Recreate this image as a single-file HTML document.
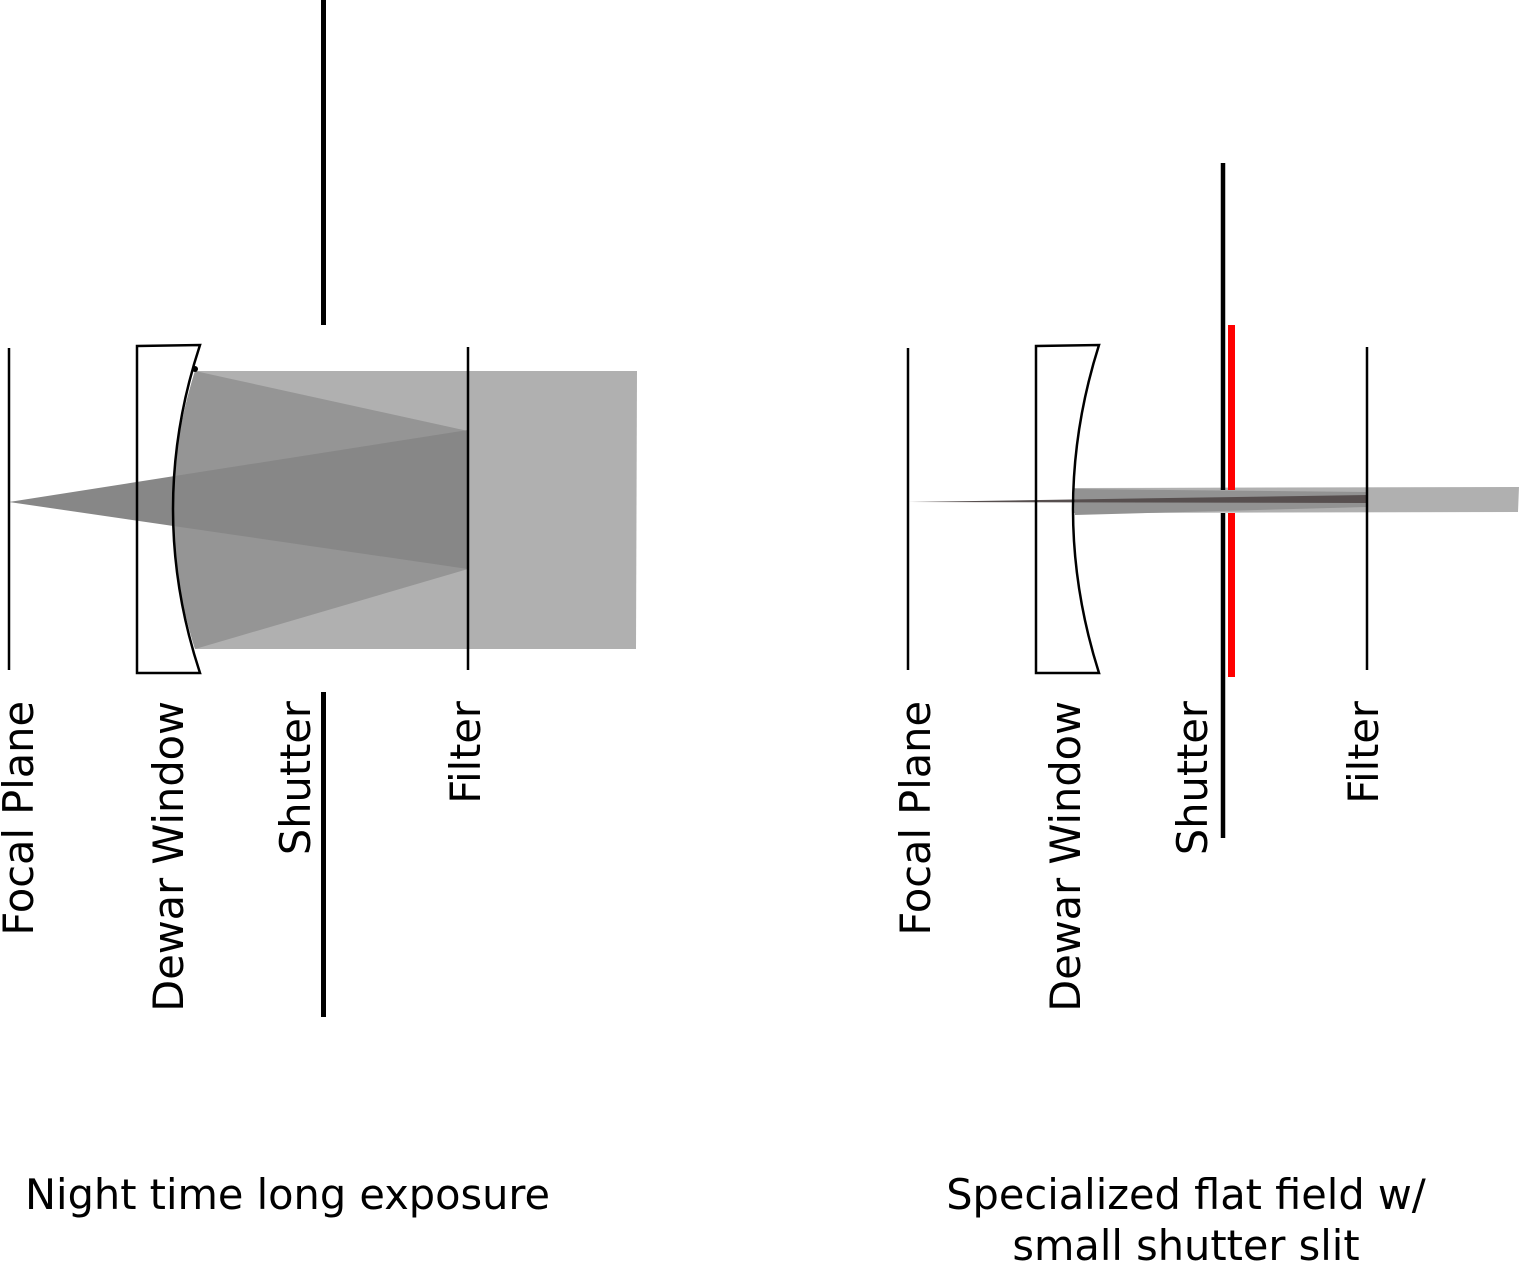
<!DOCTYPE html>
<html><head><meta charset="utf-8"><style>
html,body{margin:0;padding:0;background:#fff}
svg{display:block}
text{font-family:"DejaVu Sans","Liberation Sans",sans-serif;fill:#000}
</style></head><body>
<svg width="1519" height="1262" viewBox="0 0 1519 1262" xmlns="http://www.w3.org/2000/svg">
<!-- LEFT -->
<g>
<path d="M195,371 L637,371 L636,649 L195,649 Q151,510 195,371 Z" fill="#b0b0b0"/>
<path d="M195,371 L468,431 L468,569 L195,649 Q151,510 195,371 Z" fill="#959595"/>
<path d="M9,502 L468,430 L468,569 Z" fill="#878787"/>
<line x1="9" y1="348" x2="9" y2="670" stroke="#000" stroke-width="2.5"/>
<path d="M137,346 L200,345 Q146,509 200,673 L137,673 Z" fill="none" stroke="#000" stroke-width="2.5"/>
<circle cx="195" cy="369" r="3" fill="#000"/>
<line x1="468" y1="347" x2="468" y2="670" stroke="#000" stroke-width="2.5"/>
<line x1="323.5" y1="0" x2="323.5" y2="325" stroke="#000" stroke-width="5"/>
<line x1="323.5" y1="692" x2="323.5" y2="1017" stroke="#000" stroke-width="5"/>
<text font-size="41.5" text-anchor="end" transform="translate(33,701) rotate(-90)">Focal Plane</text>
<text font-size="41.5" text-anchor="end" transform="translate(183,701) rotate(-90)">Dewar Window</text>
<text font-size="41.5" text-anchor="end" transform="translate(310,701) rotate(-90)">Shutter</text>
<text font-size="41.5" text-anchor="end" transform="translate(480,701) rotate(-90)">Filter</text>
<text font-size="41.5" x="25" y="1209">Night time long exposure</text>
</g>
<!-- RIGHT -->
<g>
<path d="M1073,488 L1519,487 L1518,512 L1073,513 Z" fill="#b0b0b0"/>
<path d="M1075,489 L1367,492 L1367,507 L1075,515 Z" fill="#929292"/>
<path d="M908,502 L1367,495 L1367,503 Z" fill="#574f4f"/>
<line x1="908" y1="348" x2="908" y2="670" stroke="#000" stroke-width="2.5"/>
<path d="M1036,346 L1099,345 Q1047,509 1099,673 L1036,673 Z" fill="none" stroke="#000" stroke-width="2.5"/>
<line x1="1367" y1="347" x2="1367" y2="670" stroke="#000" stroke-width="2.5"/>
<line x1="1223" y1="163" x2="1223" y2="490" stroke="#000" stroke-width="4.5"/>
<line x1="1223" y1="513" x2="1223" y2="838" stroke="#000" stroke-width="4.5"/>
<line x1="1231.5" y1="325" x2="1231.5" y2="490" stroke="#ff0000" stroke-width="7"/>
<line x1="1231.5" y1="513" x2="1231.5" y2="677" stroke="#ff0000" stroke-width="7"/>
<text font-size="41.5" text-anchor="end" transform="translate(930,701) rotate(-90)">Focal Plane</text>
<text font-size="41.5" text-anchor="end" transform="translate(1080,701) rotate(-90)">Dewar Window</text>
<text font-size="41.5" text-anchor="end" transform="translate(1207,701) rotate(-90)">Shutter</text>
<text font-size="41.5" text-anchor="end" transform="translate(1378,701) rotate(-90)">Filter</text>
<text font-size="41.5" text-anchor="middle" x="1186" y="1209">Specialized flat field w/</text>
<text font-size="41.5" text-anchor="middle" x="1186" y="1260">small shutter slit</text>
</g>
</svg>
</body></html>
